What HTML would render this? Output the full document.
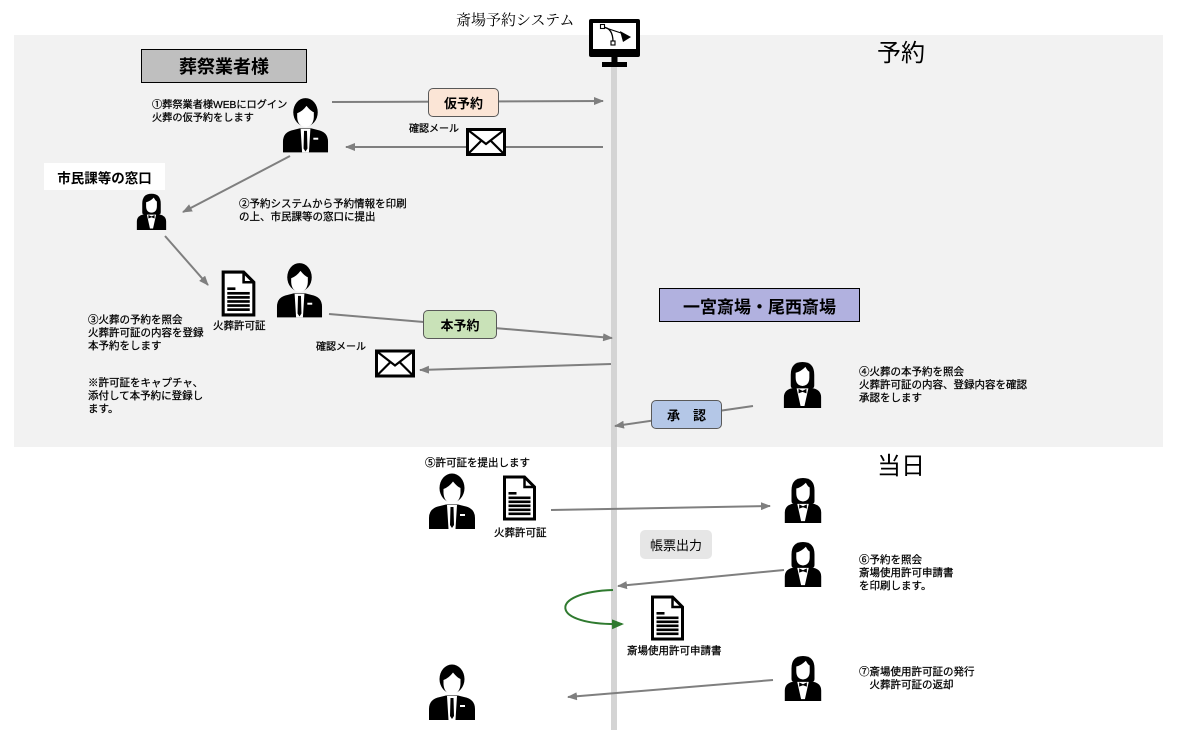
<!DOCTYPE html>
<html lang="ja">
<head>
<meta charset="utf-8">
<style>
  html,body{margin:0;padding:0;background:#fff;}
  body{width:1182px;height:748px;position:relative;overflow:hidden;
    font-family:"Liberation Sans","Noto Sans CJK JP",sans-serif;color:#000;}
  .t{position:absolute;font-size:10.5px;line-height:13px;white-space:nowrap;color:#000;-webkit-text-stroke:0.25px #000;}
  .box{position:absolute;display:flex;align-items:center;justify-content:center;box-sizing:border-box;white-space:nowrap;}
  svg{position:absolute;left:0;top:0;}
</style>
</head>
<body>
<svg width="1182" height="748" viewBox="0 0 1182 748" xmlns="http://www.w3.org/2000/svg">
  <defs>
    <marker id="ah" markerWidth="10" markerHeight="8" refX="9" refY="4" orient="auto" markerUnits="userSpaceOnUse">
      <path d="M0,0 L10,4 L0,8 Z" fill="#7f7f7f"/>
    </marker>
    <marker id="ahg" markerWidth="12" markerHeight="10" refX="10" refY="5" orient="auto" markerUnits="userSpaceOnUse">
      <path d="M0,0 L12,5 L0,10 Z" fill="#2f7a2f"/>
    </marker>
    <symbol id="male" viewBox="0 0 48 56">
      <ellipse cx="24" cy="15" rx="12.5" ry="14.5" fill="#000"/>
      <path d="M15.5,16 Q21,14 25,8.5 Q29.5,14 32.5,15 L32.5,20 Q32,29.5 24,30 Q16,29.5 15.5,20 Z" fill="#fff"/>
      <path d="M1,56 L1,45 Q1,35 12,33 L18,31.5 L30,31.5 L36,33 Q47,35 47,45 L47,56 Z" fill="#000"/>
      <path d="M19,32 L29,32 L27.5,56 L20.5,56 Z" fill="#fff"/>
      <path d="M22.5,34 L25.5,34 L26,52 L24,55 L22,52 Z" fill="#000"/>
      <rect x="32" y="41" width="5" height="2" fill="#fff"/>
    </symbol>
    <symbol id="female" viewBox="0 0 40 48">
      <path d="M8,14 Q8,1 20,1 Q32,1 32,14 L32,25 Q32,28 29,28 L11,28 Q8,28 8,25 Z" fill="#000"/>
      <path d="M13,12 Q18,11 23,6 Q25,10 27,11 L27,17 Q27,25 20,25.5 Q13,25 13,17 Z" fill="#fff"/>
      <path d="M1,48 L1,37 Q1,29 11,27.5 L29,27.5 Q39,29 39,37 L39,48 Z" fill="#000"/>
      <path d="M14,28 L26,28 L22,46 L18,46 Z" fill="#fff"/>
      <path d="M16,28.5 L20,30.5 L24,28.5 L24,33 L20,31.5 L16,33 Z" fill="#000"/>
    </symbol>
    <symbol id="doc" viewBox="0 0 34 46">
      <path d="M2,2 L22,2 L32,12 L32,44 L2,44 Z" fill="#fff" stroke="#000" stroke-width="3" stroke-linejoin="miter"/>
      <path d="M22,2 L22,12 L32,12" fill="none" stroke="#000" stroke-width="2.5"/>
      <rect x="6" y="17" width="8" height="2.6" fill="#000"/>
      <rect x="6" y="21.5" width="22" height="2.6" fill="#000"/>
      <rect x="6" y="25.5" width="22" height="2.6" fill="#000"/>
      <rect x="6" y="29.5" width="22" height="2.6" fill="#000"/>
      <rect x="6" y="33.5" width="22" height="2.6" fill="#000"/>
      <rect x="6" y="37.5" width="22" height="2.6" fill="#000"/>
    </symbol>
    <symbol id="env" viewBox="0 0 40 28">
      <rect x="1.5" y="1.5" width="37" height="25" fill="#fff" stroke="#000" stroke-width="3"/>
      <path d="M2,2 L20,16 L38,2" fill="none" stroke="#000" stroke-width="2.2"/>
      <path d="M2,26 L15.5,12.5 M38,26 L24.5,12.5" fill="none" stroke="#000" stroke-width="2.2"/>
    </symbol>
  </defs>

  <rect x="14" y="35" width="1149" height="412" fill="#f2f2f2"/>
  <rect x="611" y="57" width="6" height="673" fill="#d4d4d4"/>

  <rect x="589" y="19" width="51" height="38" rx="2" fill="#000"/>
  <rect x="593" y="23" width="43" height="26" fill="#fff"/>
  <rect x="611.5" y="56" width="6" height="7" fill="#000"/>
  <rect x="602" y="62" width="25" height="5" fill="#000"/>
  <path d="M603,27 Q613,28 613,42" fill="none" stroke="#000" stroke-width="1.3"/>
  <line x1="603" y1="27" x2="621" y2="33" stroke="#000" stroke-width="1.1"/>
  <rect x="600.5" y="24.5" width="4" height="4" fill="#fff" stroke="#000" stroke-width="1.1"/>
  <rect x="611" y="41" width="4" height="4" fill="#fff" stroke="#000" stroke-width="1.1"/>
  <path d="M620,31 L631,37 L623,42 Z" fill="#000"/>

  <g stroke="#7f7f7f" stroke-width="2" fill="none">
    <line x1="332" y1="102" x2="603" y2="101" marker-end="url(#ah)"/>
    <line x1="603" y1="147" x2="346" y2="147" marker-end="url(#ah)"/>
    <line x1="290" y1="156" x2="183" y2="212" marker-end="url(#ah)"/>
    <line x1="165" y1="236" x2="208" y2="285" marker-end="url(#ah)"/>
    <line x1="329" y1="314" x2="612" y2="338" marker-end="url(#ah)"/>
    <line x1="611" y1="364" x2="420" y2="370" marker-end="url(#ah)"/>
    <line x1="753" y1="406" x2="615" y2="426" marker-end="url(#ah)"/>
    <line x1="551" y1="510" x2="770" y2="506" marker-end="url(#ah)"/>
    <line x1="784" y1="570" x2="618" y2="586" marker-end="url(#ah)"/>
    <line x1="773" y1="680" x2="568" y2="697" marker-end="url(#ah)"/>
  </g>
  <path d="M613,590 C548,592 548,626 622,624" fill="none" stroke="#2f7a2f" stroke-width="2" marker-end="url(#ahg)"/>

  <use href="#env" x="466" y="128" width="40" height="28"/>
  <use href="#env" x="375" y="349" width="40" height="29"/>

  <use href="#doc" x="221" y="270" width="35" height="47"/>
  <use href="#doc" x="502" y="475" width="35" height="46"/>
  <use href="#doc" x="650" y="595" width="35" height="46"/>

  <use href="#male" x="282" y="97" width="47" height="56"/>
  <use href="#male" x="276" y="262" width="47" height="56"/>
  <use href="#male" x="428" y="473" width="48" height="56"/>
  <use href="#male" x="428" y="664" width="48" height="56"/>
  <use href="#female" x="136" y="193" width="31" height="37"/>
  <use href="#female" x="782" y="361" width="41" height="47"/>
  <use href="#female" x="783" y="477" width="40" height="46"/>
  <use href="#female" x="783" y="541" width="40" height="46"/>
  <use href="#female" x="783" y="655" width="40" height="46"/>
</svg>

<div class="t" style="left:456px;top:11px;font-size:15px;line-height:20px;-webkit-text-stroke:0;font-family:'Liberation Serif','Noto Serif CJK SC',serif;">斎場予約システム</div>
<div class="t" style="left:877px;top:40px;font-size:24px;line-height:27px;-webkit-text-stroke:0;">予約</div>
<div class="t" style="left:877px;top:453px;font-size:24px;line-height:27px;-webkit-text-stroke:0;">当日</div>

<div class="box" style="left:141px;top:49px;width:166px;height:34px;background:#bfbfbf;border:1.5px solid #000;font-size:18px;font-weight:bold;">葬祭業者様</div>
<div class="box" style="left:659px;top:288px;width:201px;height:34px;background:#b1b1df;border:1.5px solid #000;font-size:17px;font-weight:bold;">一宮斎場・尾西斎場</div>
<div class="box" style="left:44px;top:163px;width:121px;height:27px;background:#fff;font-size:13.5px;font-weight:bold;">市民課等の窓口</div>

<div class="box" style="left:428px;top:88px;width:71px;height:29px;background:#fbe5d6;border:1.2px solid #595959;border-radius:5px;font-size:13px;font-weight:bold;">仮予約</div>
<div class="box" style="left:423px;top:310px;width:74px;height:29px;background:#c9e2b8;border:1.2px solid #595959;border-radius:5px;font-size:13px;font-weight:bold;">本予約</div>
<div class="box" style="left:651px;top:400px;width:71px;height:29px;background:#b4c7e7;border:1.2px solid #595959;border-radius:5px;font-size:13px;font-weight:bold;">承　認</div>
<div class="box" style="left:640px;top:530px;width:72px;height:29px;background:#e6e6e6;border-radius:5px;font-size:13px;">帳票出力</div>

<div class="t" style="left:409px;top:123px;font-size:10px;">確認メール</div>
<div class="t" style="left:316px;top:341px;font-size:10px;">確認メール</div>
<div class="t" style="left:213px;top:320px;">火葬許可証</div>
<div class="t" style="left:494px;top:527px;">火葬許可証</div>
<div class="t" style="left:627px;top:645px;">斎場使用許可申請書</div>

<div class="t" style="left:152px;top:99px;font-size:10.2px;">①葬祭業者様WEBにログイン<br>火葬の仮予約をします</div>
<div class="t" style="left:239px;top:198px;">②予約システムから予約情報を印刷<br>の上、市民課等の窓口に提出</div>
<div class="t" style="left:88px;top:314px;">③火葬の予約を照会<br>火葬許可証の内容を登録<br>本予約をします</div>
<div class="t" style="left:88px;top:377px;">※許可証をキャプチャ、<br>添付して本予約に登録し<br>ます。</div>
<div class="t" style="left:859px;top:366px;">④火葬の本予約を照会<br>火葬許可証の内容、登録内容を確認<br>承認をします</div>
<div class="t" style="left:425px;top:457px;">⑤許可証を提出します</div>
<div class="t" style="left:859px;top:554px;">⑥予約を照会<br>斎場使用許可申請書<br>を印刷します。</div>
<div class="t" style="left:859px;top:666px;">⑦斎場使用許可証の発行<br>&#12288;火葬許可証の返却</div>
</body>
</html>
